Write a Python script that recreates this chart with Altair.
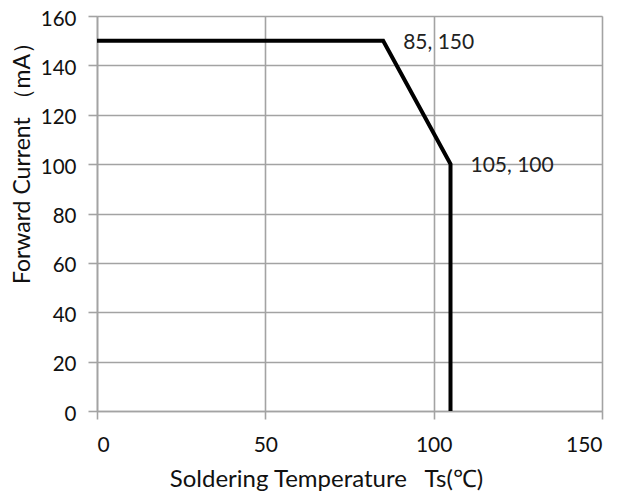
import altair as alt
import pandas as pd

temp = [0, 85, 105, 105]
current = [150, 150, 100, 0]
ann_x = [85, 105]
ann_y = [150, 100]
ann_text = ["85, 150", "105, 100"]
x_ticks = [0, 50, 100, 150]
y_ticks = [0, 20, 40, 60, 80, 100, 120, 140, 160]

FONT = "Lato"
GRID = "#a3a3a3"
NB = "\u00a0"

df = pd.DataFrame({"t": temp, "c": current, "o": list(range(len(temp)))})
ann = pd.DataFrame({"t": ann_x, "c": ann_y, "label": ann_text})

x = alt.X("t:Q", scale=alt.Scale(domain=[0, 150], nice=False),
          axis=alt.Axis(values=x_ticks, title="Soldering Temperature" + NB * 3 + "Ts(℃)",
                        grid=True, gridColor=GRID, gridWidth=1.6,
                        domainColor=GRID, domainWidth=1.6,
                        tickColor=GRID, tickWidth=1.6, tickSize=8,
                        labelPadding=15, labelFont=FONT, labelFontSize=21,
                        labelColor="#111", titleFont=FONT, titleFontSize=24,
                        titleFontWeight="normal", titleColor="#111",
                        titleX=229, titleY=68, titleBaseline="middle",
                        titleAlign="center", titleAnchor="start"))
y = alt.Y("c:Q", scale=alt.Scale(domain=[0, 160], nice=False),
          axis=alt.Axis(values=y_ticks, title="Forward Current （mA）",
                        grid=True, gridColor=GRID, gridWidth=1.6,
                        domainColor=GRID, domainWidth=1.6,
                        tickColor=GRID, tickWidth=1.6, tickSize=9,
                        labelPadding=12, labelOffset=3, labelFont=FONT, labelFontSize=20.5,
                        labelColor="#111", titleFont=FONT, titleFontSize=23,
                        titleFontWeight="normal", titleColor="#111",
                        titleX=-75, titleY=141, titleBaseline="middle",
                        titleAlign="center", titleAnchor="start", titleAngle=270))

line = alt.Chart(df).mark_line(color="black", strokeWidth=4, strokeJoin="miter").encode(
    x=x, y=y, order="o:Q")

labels = alt.Chart(ann).mark_text(align="left", baseline="middle", dx=20, dy=2,
                                  font=FONT, fontSize=21, color="#222").encode(
    x="t:Q", y="c:Q", text="label:N")

chart = (line + labels).properties(
    width=505, height=395,
    autosize=alt.AutoSizeParams(type="none"),
    padding={"left": 89, "top": 8, "right": 14, "bottom": 84},
).configure_view(stroke=None).configure(background="white")

chart.save("out.html", embed_options={"renderer": "svg", "actions": False})
